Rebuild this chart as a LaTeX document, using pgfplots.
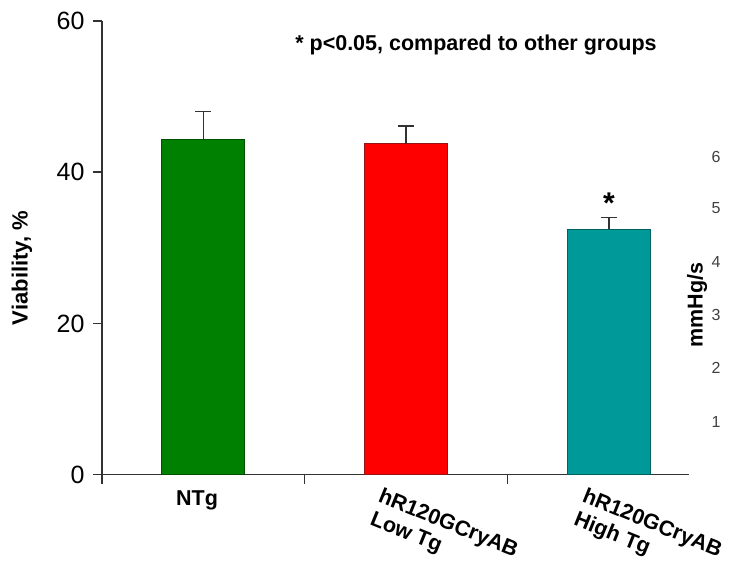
\documentclass[border=0pt]{standalone}
\usepackage{pgfplots}
\pgfplotsset{compat=1.18}
\usepackage{fontspec}
\setmainfont{Liberation Sans}
\definecolor{gfill}{RGB}{0,128,0}
\definecolor{gdraw}{RGB}{0,80,0}
\definecolor{rfill}{RGB}{255,0,0}
\definecolor{rdraw}{RGB}{150,20,20}
\definecolor{tfill}{RGB}{0,153,153}
\definecolor{tdraw}{RGB}{0,95,95}
\definecolor{axc}{RGB}{50,50,50}
\newcommand{\lbl}{\fontsize{21.5bp}{21bp}\selectfont\bfseries}
\begin{document}
\begin{tikzpicture}
\path[use as bounding box] (-102bp,-94.3bp) rectangle (628bp,474.7bp);
\begin{axis}[
  scale only axis, width=587.3bp, height=453.7bp,
  xmin=0.5, xmax=3.397, ymin=0, ymax=60,
  enlargelimits=false,
  axis x line=bottom, axis y line=left,
  axis line style={-, line width=1.5bp, draw=axc},
  tick style={line width=1.5bp, draw=axc},
  tick align=outside, major tick length=9bp,
  xtick={0.5,1.5,2.5}, xticklabel=\empty,
  ytick={0,20,40,60},
  minor tick num=0,
  yticklabel style={font=\fontsize{25bp}{25bp}\selectfont, xshift=-5bp},
  /pgf/number format/assume math mode=true,
  clip=false,
  ybar, bar width=83bp,
  error bars/y dir=plus, error bars/y explicit,
  error bars/error mark options={rotate=90, mark size=8bp, line width=1.5bp, draw=axc},
  error bars/error bar style={line width=1.5bp, draw=axc},
]
\addplot[fill=gfill, draw=gdraw, line width=1bp, bar shift=0pt] coordinates {(1,44.35) +- (0,3.71)};
\addplot[fill=rfill, draw=rdraw, line width=1bp, bar shift=0pt] coordinates {(2,43.77) +- (0,2.34)};
\addplot[fill=tfill, draw=tdraw, line width=1bp, bar shift=0pt] coordinates {(3,32.45) +- (0,1.54)};
\end{axis}
\node[font=\lbl] at (95bp,-25.3bp) {NTg};
\node[font=\lbl, rotate=-22, anchor=north west, inner sep=0pt] at (281bp,-12.3bp) {hR120GCryAB};
\node[font=\lbl, rotate=-22, anchor=north west, inner sep=0pt] at (272.5bp,-35.5bp) {Low Tg};
\node[font=\lbl, rotate=-22, anchor=north west, inner sep=0pt] at (485bp,-12.3bp) {hR120GCryAB};
\node[font=\lbl, rotate=-22, anchor=north west, inner sep=0pt] at (476.5bp,-35.5bp) {High Tg};
\node[font=\fontsize{22bp}{22bp}\selectfont\bfseries, rotate=90] at (-80bp,206.7bp) {Viability, \%};
\node[font=\lbl] at (374bp,429.7bp) {* p<0.05, compared to other groups};
\node[font=\fontsize{30bp}{30bp}\selectfont\bfseries] at (507bp,272bp) {*};
\node[font=\lbl, rotate=90] at (595bp,169.7bp) {mmHg/s};
\begin{scope}[every node/.style={font=\fontsize{16bp}{16bp}\selectfont, text=black!75}]
\node at (614bp,317.7bp) {6};
\node at (614bp,266.7bp) {5};
\node at (614bp,212.7bp) {4};
\node at (614bp,159.7bp) {3};
\node at (614bp,106.7bp) {2};
\node at (614bp,52.7bp) {1};
\end{scope}
\end{tikzpicture}
\end{document}
